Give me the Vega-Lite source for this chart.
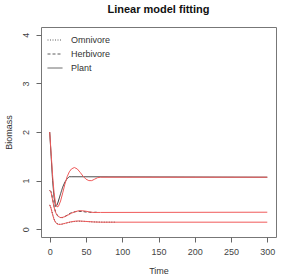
{
  "$schema": "https://vega.github.io/schema/vega-lite/v6.json",
  "width": 235,
  "height": 210,
  "autosize": {"type": "none"},
  "padding": {"left": 41, "top": 27, "right": 7, "bottom": 40},
  "background": "white",
  "title": {"text": "Linear model fitting", "fontSize": 11, "fontWeight": "bold", "font": "Liberation Sans", "color": "#111", "offset": 12, "anchor": "middle"},
  "config": {
    "view": {"stroke": "#777", "strokeWidth": 1},
    "font": "Liberation Sans",
    "axis": {"grid": false, "domain": false, "tickColor": "#666", "tickSize": 5, "labelColor": "#444", "labelFontSize": 9, "titleColor": "#333", "titleFontSize": 9, "titleFontWeight": "normal"}
  },
  "data": {"values": [
    {"time": 0, "value": 2.0, "series": "Plant", "kind": "obs"},
    {"time": 2, "value": 1.5, "series": "Plant", "kind": "obs"},
    {"time": 4, "value": 1.0, "series": "Plant", "kind": "obs"},
    {"time": 6, "value": 0.66, "series": "Plant", "kind": "obs"},
    {"time": 8, "value": 0.47, "series": "Plant", "kind": "obs"},
    {"time": 10, "value": 0.49, "series": "Plant", "kind": "obs"},
    {"time": 12, "value": 0.58, "series": "Plant", "kind": "obs"},
    {"time": 15, "value": 0.73, "series": "Plant", "kind": "obs"},
    {"time": 18, "value": 0.87, "series": "Plant", "kind": "obs"},
    {"time": 21, "value": 0.97, "series": "Plant", "kind": "obs"},
    {"time": 24, "value": 1.04, "series": "Plant", "kind": "obs"},
    {"time": 27, "value": 1.08, "series": "Plant", "kind": "obs"},
    {"time": 30, "value": 1.08, "series": "Plant", "kind": "obs"},
    {"time": 300, "value": 1.07, "series": "Plant", "kind": "obs"},
    {"time": 0, "value": 0.8, "series": "Herbivore", "kind": "obs"},
    {"time": 2, "value": 0.77, "series": "Herbivore", "kind": "obs"},
    {"time": 4, "value": 0.62, "series": "Herbivore", "kind": "obs"},
    {"time": 6, "value": 0.47, "series": "Herbivore", "kind": "obs"},
    {"time": 8, "value": 0.36, "series": "Herbivore", "kind": "obs"},
    {"time": 10, "value": 0.3, "series": "Herbivore", "kind": "obs"},
    {"time": 12, "value": 0.26, "series": "Herbivore", "kind": "obs"},
    {"time": 15, "value": 0.24, "series": "Herbivore", "kind": "obs"},
    {"time": 18, "value": 0.24, "series": "Herbivore", "kind": "obs"},
    {"time": 21, "value": 0.26, "series": "Herbivore", "kind": "obs"},
    {"time": 25, "value": 0.3, "series": "Herbivore", "kind": "obs"},
    {"time": 30, "value": 0.34, "series": "Herbivore", "kind": "obs"},
    {"time": 35, "value": 0.36, "series": "Herbivore", "kind": "obs"},
    {"time": 40, "value": 0.37, "series": "Herbivore", "kind": "obs"},
    {"time": 45, "value": 0.365, "series": "Herbivore", "kind": "obs"},
    {"time": 50, "value": 0.355, "series": "Herbivore", "kind": "obs"},
    {"time": 55, "value": 0.35, "series": "Herbivore", "kind": "obs"},
    {"time": 60, "value": 0.345, "series": "Herbivore", "kind": "obs"},
    {"time": 65, "value": 0.35, "series": "Herbivore", "kind": "obs"},
    {"time": 0, "value": 0.5, "series": "Omnivore", "kind": "obs"},
    {"time": 2, "value": 0.43, "series": "Omnivore", "kind": "obs"},
    {"time": 4, "value": 0.31, "series": "Omnivore", "kind": "obs"},
    {"time": 6, "value": 0.21, "series": "Omnivore", "kind": "obs"},
    {"time": 8, "value": 0.15, "series": "Omnivore", "kind": "obs"},
    {"time": 10, "value": 0.12, "series": "Omnivore", "kind": "obs"},
    {"time": 13, "value": 0.1, "series": "Omnivore", "kind": "obs"},
    {"time": 16, "value": 0.1, "series": "Omnivore", "kind": "obs"},
    {"time": 20, "value": 0.115, "series": "Omnivore", "kind": "obs"},
    {"time": 25, "value": 0.135, "series": "Omnivore", "kind": "obs"},
    {"time": 30, "value": 0.15, "series": "Omnivore", "kind": "obs"},
    {"time": 35, "value": 0.16, "series": "Omnivore", "kind": "obs"},
    {"time": 40, "value": 0.165, "series": "Omnivore", "kind": "obs"},
    {"time": 50, "value": 0.16, "series": "Omnivore", "kind": "obs"},
    {"time": 60, "value": 0.15, "series": "Omnivore", "kind": "obs"},
    {"time": 75, "value": 0.145, "series": "Omnivore", "kind": "obs"},
    {"time": 90, "value": 0.145, "series": "Omnivore", "kind": "obs"},
    {"time": 0, "value": 2.0, "series": "Plant", "kind": "model"},
    {"time": 2, "value": 1.55, "series": "Plant", "kind": "model"},
    {"time": 4, "value": 1.1, "series": "Plant", "kind": "model"},
    {"time": 6, "value": 0.75, "series": "Plant", "kind": "model"},
    {"time": 8, "value": 0.54, "series": "Plant", "kind": "model"},
    {"time": 10, "value": 0.46, "series": "Plant", "kind": "model"},
    {"time": 12, "value": 0.47, "series": "Plant", "kind": "model"},
    {"time": 15, "value": 0.58, "series": "Plant", "kind": "model"},
    {"time": 18, "value": 0.75, "series": "Plant", "kind": "model"},
    {"time": 21, "value": 0.93, "series": "Plant", "kind": "model"},
    {"time": 24, "value": 1.08, "series": "Plant", "kind": "model"},
    {"time": 27, "value": 1.18, "series": "Plant", "kind": "model"},
    {"time": 30, "value": 1.24, "series": "Plant", "kind": "model"},
    {"time": 34, "value": 1.27, "series": "Plant", "kind": "model"},
    {"time": 38, "value": 1.24, "series": "Plant", "kind": "model"},
    {"time": 42, "value": 1.17, "series": "Plant", "kind": "model"},
    {"time": 46, "value": 1.09, "series": "Plant", "kind": "model"},
    {"time": 50, "value": 1.03, "series": "Plant", "kind": "model"},
    {"time": 54, "value": 1.0, "series": "Plant", "kind": "model"},
    {"time": 58, "value": 1.0, "series": "Plant", "kind": "model"},
    {"time": 62, "value": 1.03, "series": "Plant", "kind": "model"},
    {"time": 66, "value": 1.06, "series": "Plant", "kind": "model"},
    {"time": 70, "value": 1.07, "series": "Plant", "kind": "model"},
    {"time": 300, "value": 1.07, "series": "Plant", "kind": "model"},
    {"time": 0, "value": 0.8, "series": "Herbivore", "kind": "model"},
    {"time": 2, "value": 0.75, "series": "Herbivore", "kind": "model"},
    {"time": 4, "value": 0.6, "series": "Herbivore", "kind": "model"},
    {"time": 6, "value": 0.45, "series": "Herbivore", "kind": "model"},
    {"time": 8, "value": 0.35, "series": "Herbivore", "kind": "model"},
    {"time": 10, "value": 0.29, "series": "Herbivore", "kind": "model"},
    {"time": 12, "value": 0.26, "series": "Herbivore", "kind": "model"},
    {"time": 15, "value": 0.24, "series": "Herbivore", "kind": "model"},
    {"time": 18, "value": 0.245, "series": "Herbivore", "kind": "model"},
    {"time": 21, "value": 0.26, "series": "Herbivore", "kind": "model"},
    {"time": 25, "value": 0.29, "series": "Herbivore", "kind": "model"},
    {"time": 30, "value": 0.33, "series": "Herbivore", "kind": "model"},
    {"time": 35, "value": 0.36, "series": "Herbivore", "kind": "model"},
    {"time": 40, "value": 0.38, "series": "Herbivore", "kind": "model"},
    {"time": 45, "value": 0.38, "series": "Herbivore", "kind": "model"},
    {"time": 50, "value": 0.37, "series": "Herbivore", "kind": "model"},
    {"time": 55, "value": 0.355, "series": "Herbivore", "kind": "model"},
    {"time": 60, "value": 0.345, "series": "Herbivore", "kind": "model"},
    {"time": 70, "value": 0.345, "series": "Herbivore", "kind": "model"},
    {"time": 300, "value": 0.35, "series": "Herbivore", "kind": "model"},
    {"time": 0, "value": 0.5, "series": "Omnivore", "kind": "model"},
    {"time": 2, "value": 0.42, "series": "Omnivore", "kind": "model"},
    {"time": 4, "value": 0.3, "series": "Omnivore", "kind": "model"},
    {"time": 6, "value": 0.2, "series": "Omnivore", "kind": "model"},
    {"time": 8, "value": 0.14, "series": "Omnivore", "kind": "model"},
    {"time": 10, "value": 0.11, "series": "Omnivore", "kind": "model"},
    {"time": 12, "value": 0.1, "series": "Omnivore", "kind": "model"},
    {"time": 15, "value": 0.1, "series": "Omnivore", "kind": "model"},
    {"time": 18, "value": 0.11, "series": "Omnivore", "kind": "model"},
    {"time": 22, "value": 0.125, "series": "Omnivore", "kind": "model"},
    {"time": 26, "value": 0.14, "series": "Omnivore", "kind": "model"},
    {"time": 30, "value": 0.155, "series": "Omnivore", "kind": "model"},
    {"time": 35, "value": 0.165, "series": "Omnivore", "kind": "model"},
    {"time": 40, "value": 0.17, "series": "Omnivore", "kind": "model"},
    {"time": 45, "value": 0.165, "series": "Omnivore", "kind": "model"},
    {"time": 50, "value": 0.16, "series": "Omnivore", "kind": "model"},
    {"time": 60, "value": 0.15, "series": "Omnivore", "kind": "model"},
    {"time": 70, "value": 0.145, "series": "Omnivore", "kind": "model"},
    {"time": 300, "value": 0.145, "series": "Omnivore", "kind": "model"}
  ]},
  "encoding": {
    "x": {"field": "time", "type": "quantitative", "scale": {"domain": [-12, 312], "nice": false, "zero": false},
      "axis": {"title": "Time", "values": [0, 50, 100, 150, 200, 250, 300], "labelPadding": 5, "titlePadding": 10}},
    "y": {"field": "value", "type": "quantitative", "scale": {"domain": [-0.16, 4.16], "nice": false, "zero": false},
      "axis": {"title": "Biomass", "values": [0, 1, 2, 3, 4], "labelAngle": 270, "labelAlign": "center", "labelBaseline": "bottom", "labelPadding": 6, "titlePadding": 8}}
  },
  "layer": [
    {
      "transform": [{"filter": "datum.kind === 'obs'"}],
      "mark": {"type": "line", "color": "#333", "strokeWidth": 1},
      "encoding": {
        "strokeDash": {"field": "series", "type": "nominal",
          "scale": {"domain": ["Omnivore", "Herbivore", "Plant"], "range": [[1, 1.5], [3, 2], [1, 0]]},
          "legend": {"title": null, "orient": "none", "legendX": 6, "legendY": 5, "symbolType": "stroke", "symbolSize": 225, "symbolStrokeColor": "#333", "symbolStrokeWidth": 0.8, "labelFontSize": 9, "labelColor": "#333", "rowPadding": 1, "labelOffset": 8}}
      }
    },
    {
      "transform": [{"filter": "datum.kind === 'model'"}],
      "mark": {"type": "line", "color": "#f05a5a", "strokeWidth": 1},
      "encoding": {"detail": {"field": "series", "type": "nominal"}}
    }
  ]
}
